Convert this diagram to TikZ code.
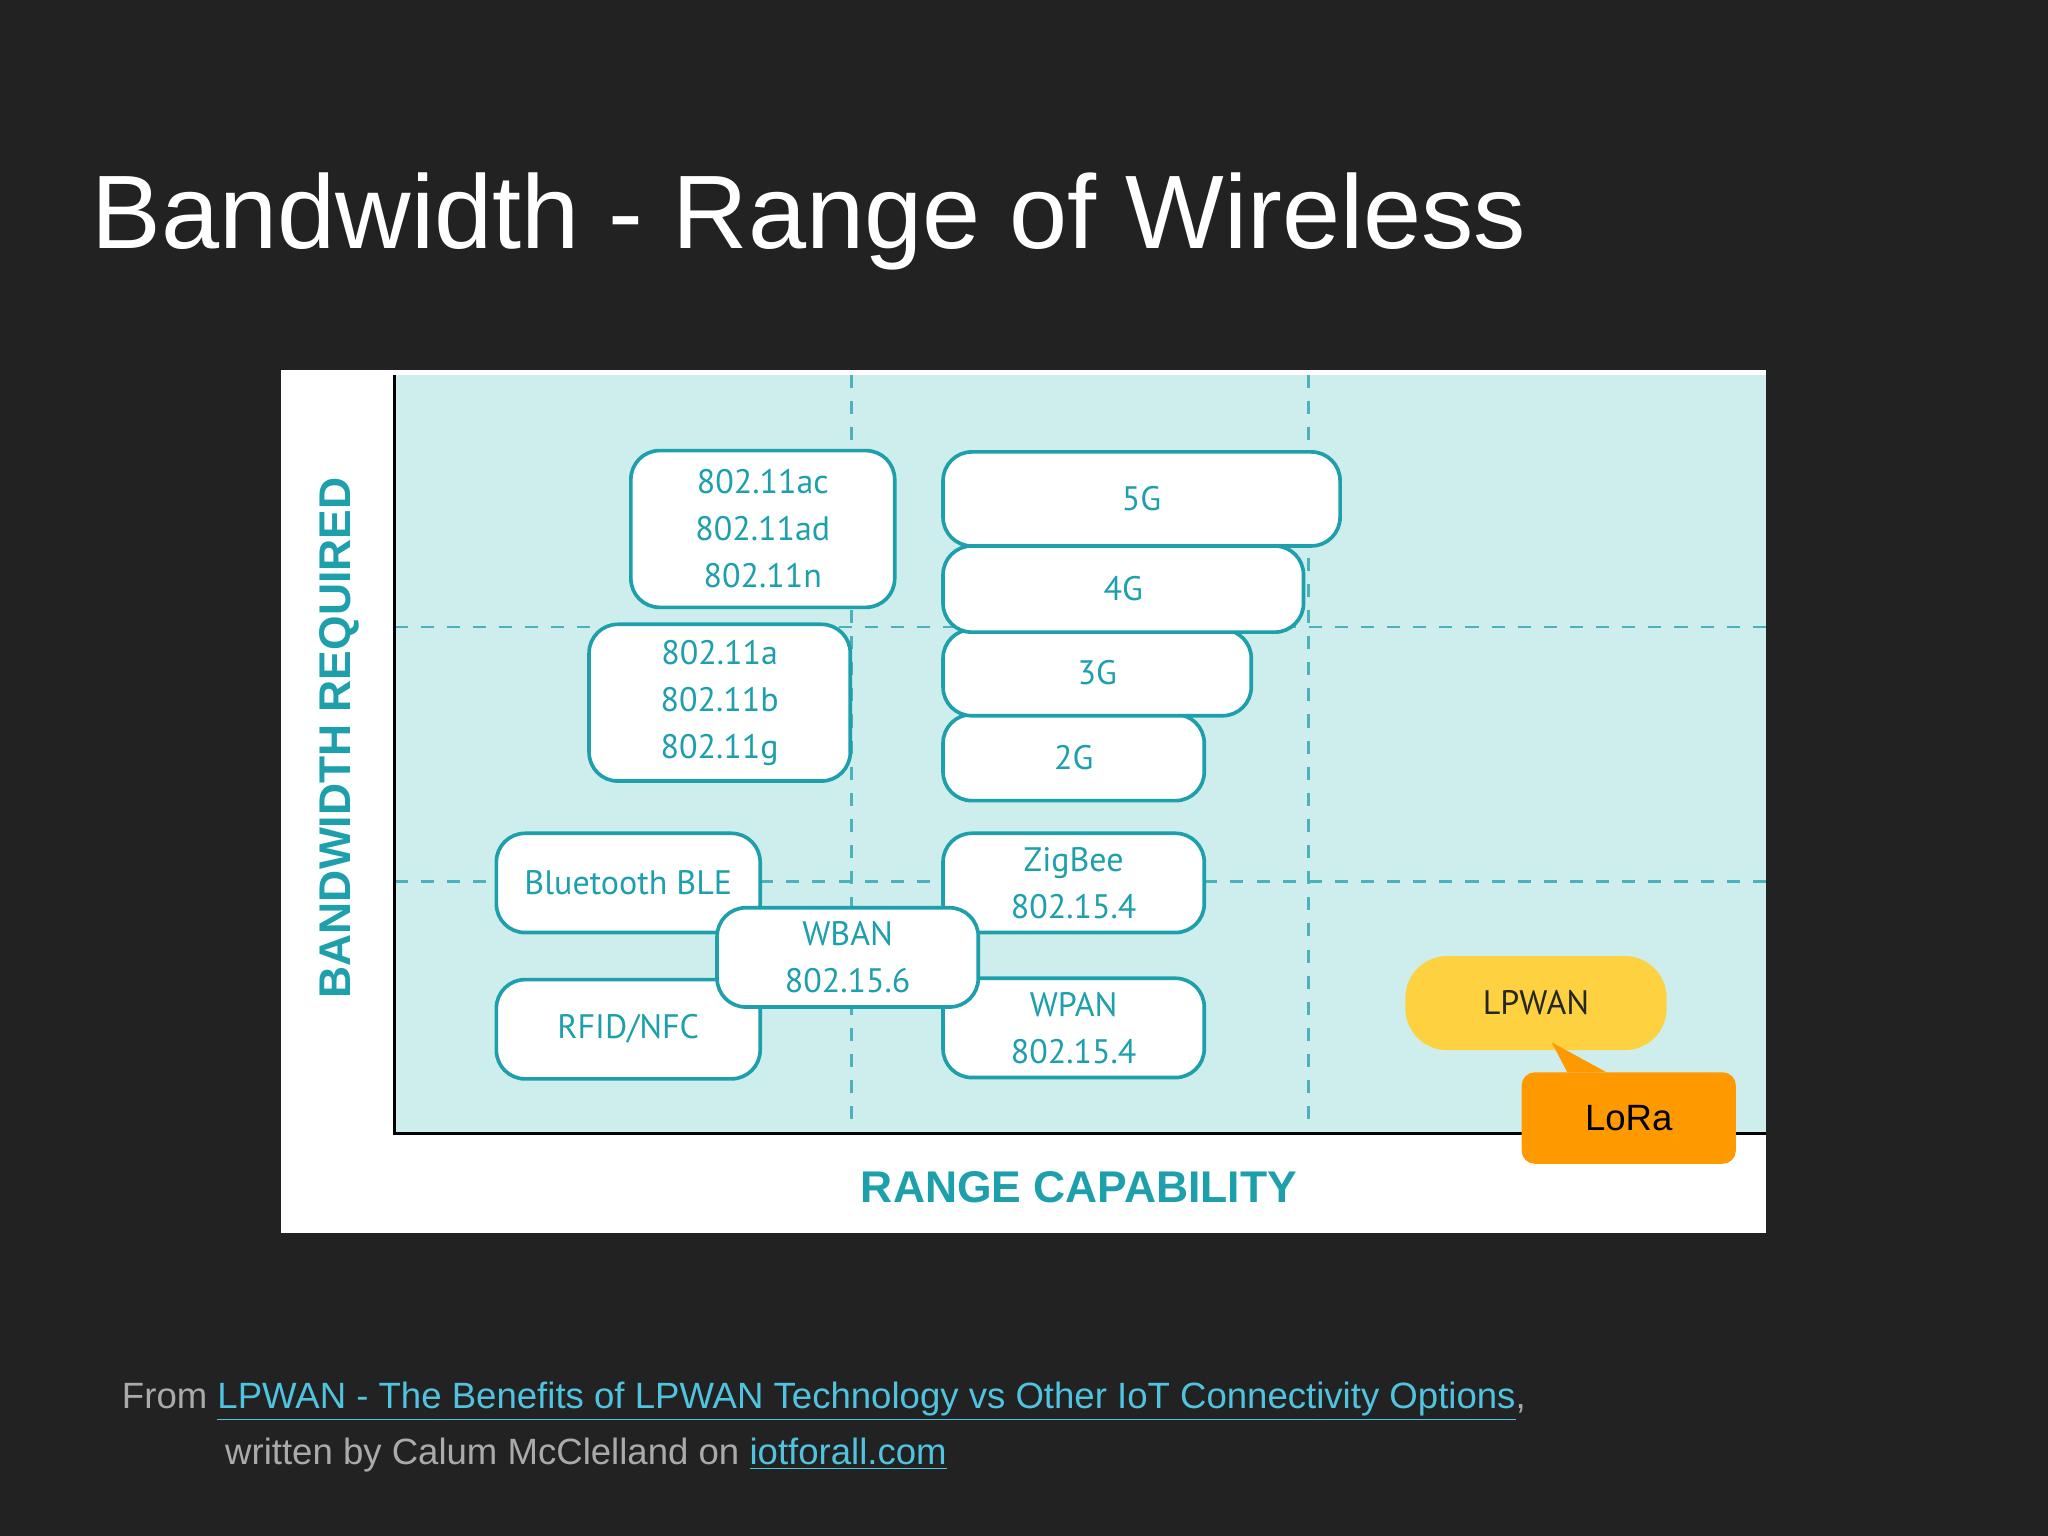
\documentclass[tikz,border=0pt]{standalone}
\usepackage{fontspec}
\setmainfont{Liberation Sans}
\newfontfamily\boxfont{PT Sans}
\definecolor{bg}{HTML}{222222}
\definecolor{teal}{HTML}{1E9FAC}
\definecolor{pane}{HTML}{CDEEEC}
\definecolor{lpw}{HTML}{FDD13F}
\definecolor{lora}{HTML}{FF9900}
\definecolor{link}{HTML}{4FC3E0}
\definecolor{foot}{HTML}{AAAAAA}
\begin{document}
\begin{tikzpicture}[x=0.5pt,y=-0.5pt,
 bx/.style={draw=teal,line width=1.4pt,fill=white,rounded corners=11pt,text=teal,font=\boxfont\fontsize{13}{16}\selectfont,align=center,inner sep=0pt},
 dsh/.style={teal!80,line width=1pt,dash pattern=on 5pt off 5pt}]
\useasboundingbox (0,0) rectangle (1568,1176);
\fill[bg] (0,0) rectangle (1568,1176);
\node[anchor=base west,text=white,font=\fontsize{40}{48}\selectfont,inner sep=0pt] (title) at (70,190) {Bandwidth - Range of Wireless};
\fill[white] (215,283) rectangle (1352,944);
\fill[pane] (302,287) rectangle (1352,868);
\draw[dsh] (652,287) -- (652,868) (1002,287) -- (1002,868) (302,480) -- (1352,480) (302,675) -- (1352,675);
\draw[black,line width=1.2pt] (302,287) -- (302,868) -- (1352,868);
\node[rotate=90,text=teal,font=\bfseries\fontsize{17}{20}\selectfont] (ylab) at (260,565) {BANDWIDTH REQUIRED};
\node[text=teal,font=\bfseries\fontsize{17}{20}\selectfont] (xlab) at (826,909) {RANGE CAPABILITY};
\node[bx,minimum width=101pt,minimum height=60pt] (ac) at (584,405) {802.11ac\\[2pt]802.11ad\\[2pt]802.11n};
\node[bx,minimum width=100pt,minimum height=60pt] (ab) at (551,538) {802.11a\\[2pt]802.11b\\[2pt]802.11g};
\node[bx,minimum width=100pt,minimum height=33pt] (g2) at (822,580) {2G};
\node[bx,minimum width=118pt,minimum height=33pt] (g3) at (840,515) {3G};
\node[bx,minimum width=138pt,minimum height=33pt] (g4) at (860,451) {4G};
\node[bx,minimum width=152pt,minimum height=36pt] (g5) at (874,382) {5G};
\node[bx,minimum width=101pt,minimum height=38pt] (ble) at (481,676) {Bluetooth BLE};
\node[bx,minimum width=100pt,minimum height=38pt] (zig) at (822,676) {ZigBee\\[2pt]802.15.4};
\node[bx,minimum width=101pt,minimum height=38pt] (rfid) at (481,788) {RFID/NFC};
\node[bx,minimum width=100pt,minimum height=38pt] (wpan) at (822,787) {WPAN\\[2pt]802.15.4};
\node[bx,minimum width=100pt,minimum height=38pt] (wban) at (649,733) {WBAN\\[2pt]802.15.6};
\node[fill=lpw,rounded corners=16pt,minimum width=100pt,minimum height=36pt,font=\boxfont\fontsize{13}{16}\selectfont,text=black!85] (lpwan) at (1176,768) {LPWAN};
\coordinate (tip) at (1188,798);
\fill[lora] (tip) -- (1200,821) -- (1230,821) -- cycle;
\node[fill=lora,rounded corners=5pt,minimum width=82pt,minimum height=35pt,font=\fontsize{14}{16}\selectfont,text=black] (lora) at (1247,856) {LoRa};
\node[anchor=base west,inner sep=0pt,font=\fontsize{14}{16}\selectfont,text=foot] (f1) at (93,1078) {From \textcolor{link}{\underline{LPWAN - The Benefits of LPWAN Technology vs Other IoT Connectivity Options}},};
\node[anchor=base west,inner sep=0pt,font=\fontsize{14}{16}\selectfont,text=foot] (f2) at (172,1121) {written by Calum McClelland on \textcolor{link}{\underline{iotforall.com}}};
\end{tikzpicture}
\end{document}
